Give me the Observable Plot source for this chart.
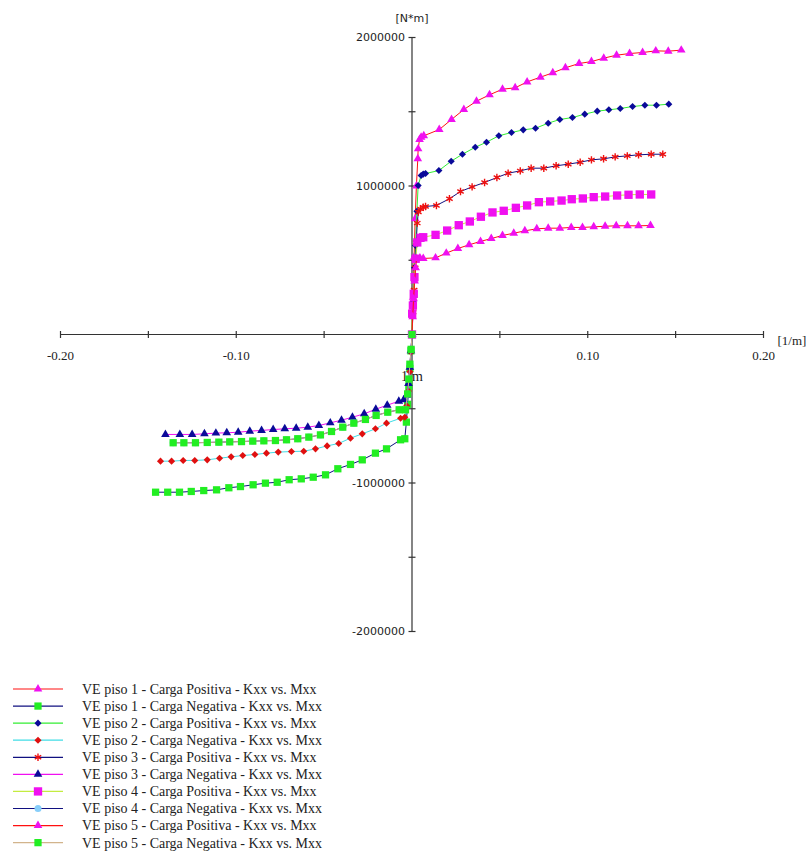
<!DOCTYPE html>
<html>
<head>
<meta charset="utf-8">
<script src="https://cdn.jsdelivr.net/npm/d3@7"></script>
<script src="https://cdn.jsdelivr.net/npm/@observablehq/plot@0.6"></script>
<style>
  body { margin: 0; background: #fff; }
  #chart svg, #legend svg { display: block; }
</style>
</head>
<body>
<div id="chart"></div>
<div id="legend"></div>
<script>
// Moment–curvature curves, pairs of [curvature 1/m, moment N*m]
const p1Pos = [[0,0],[0.0006,250000],[0.0012,520000],[0.0018,780000],[0.0025,1000000],[0.0033,1183000],[0.0035,1250000],[0.0043,1313000],[0.0052,1328000],[0.0067,1338000],[0.0155,1380000],[0.0225,1448000],[0.0295,1515000],[0.0367,1571000],[0.0441,1614000],[0.0515,1652000],[0.0587,1661000],[0.0655,1701000],[0.0731,1733000],[0.0801,1762000],[0.0873,1796000],[0.0951,1825000],[0.1021,1838000],[0.1091,1861000],[0.1164,1881000],[0.1238,1892000],[0.1312,1899000],[0.1387,1910000],[0.1458,1908000],[0.1532,1915000]];
const p1Neg = [[0,0],[-0.0006,-110000],[-0.0012,-230000],[-0.0018,-350000],[-0.0025,-470000],[-0.0032,-590000],[-0.0041,-702000],[-0.0065,-709000],[-0.0145,-770000],[-0.0208,-799000],[-0.0283,-844000],[-0.035,-875000],[-0.0422,-904000],[-0.0492,-945000],[-0.0562,-961000],[-0.063,-972000],[-0.0699,-978000],[-0.0767,-995000],[-0.0834,-1001000],[-0.0904,-1012000],[-0.0976,-1024000],[-0.1042,-1032000],[-0.1112,-1046000],[-0.1185,-1051000],[-0.1256,-1057000],[-0.1323,-1062000],[-0.139,-1062000],[-0.1459,-1062000]];
const p2Pos = [[0,0],[0.0007,220000],[0.0014,450000],[0.002,600000],[0.0028,830000],[0.0035,1003000],[0.0052,1071000],[0.0064,1080000],[0.0077,1084000],[0.0153,1104000],[0.0223,1167000],[0.0287,1214000],[0.036,1261000],[0.0424,1295000],[0.0494,1338000],[0.0566,1360000],[0.0633,1378000],[0.0703,1389000],[0.0775,1423000],[0.0841,1448000],[0.0913,1461000],[0.0983,1484000],[0.1054,1504000],[0.112,1513000],[0.1185,1522000],[0.1255,1535000],[0.1325,1544000],[0.1391,1544000],[0.1461,1551000]];
const p2Neg = [[0,0],[-0.0006,-120000],[-0.0012,-250000],[-0.002,-380000],[-0.003,-480000],[-0.0041,-557000],[-0.0065,-564000],[-0.0145,-597000],[-0.0208,-635000],[-0.0283,-669000],[-0.035,-698000],[-0.0417,-734000],[-0.0483,-750000],[-0.0549,-770000],[-0.0616,-786000],[-0.0686,-788000],[-0.0761,-792000],[-0.0828,-799000],[-0.0894,-808000],[-0.0963,-815000],[-0.1029,-824000],[-0.1095,-833000],[-0.1165,-844000],[-0.1236,-848000],[-0.1302,-848000],[-0.1368,-853000],[-0.1431,-853000]];
const p3Pos = [[0,0],[0.0006,150000],[0.0012,300000],[0.0018,450000],[0.0024,620000],[0.003,750000],[0.0036,825000],[0.0048,846000],[0.0064,857000],[0.0077,862000],[0.0139,869000],[0.0213,914000],[0.0276,963000],[0.0342,994000],[0.0413,1024000],[0.0483,1057000],[0.0547,1086000],[0.0616,1102000],[0.0678,1120000],[0.075,1120000],[0.082,1136000],[0.0889,1147000],[0.0957,1160000],[0.1021,1176000],[0.109,1183000],[0.1156,1196000],[0.1225,1203000],[0.1289,1210000],[0.1361,1214000],[0.1427,1214000]];
const p3Neg = [[0,0],[-0.0006,-110000],[-0.0012,-220000],[-0.002,-330000],[-0.003,-410000],[-0.0047,-440000],[-0.0075,-449000],[-0.0141,-476000],[-0.0206,-503000],[-0.0272,-534000],[-0.0339,-557000],[-0.0401,-577000],[-0.0465,-595000],[-0.053,-613000],[-0.0593,-624000],[-0.0659,-631000],[-0.0724,-635000],[-0.079,-640000],[-0.0856,-646000],[-0.0923,-651000],[-0.0989,-658000],[-0.1054,-662000],[-0.1116,-664000],[-0.1181,-669000],[-0.1251,-673000],[-0.1321,-673000],[-0.1403,-673000]];
const p4Pos = [[0,0],[0.0001,140000],[0.0005,195000],[0.001,274000],[0.0014,386000],[0.0021,510000],[0.003,620000],[0.0048,651000],[0.0064,655000],[0.0134,671000],[0.02,700000],[0.0266,736000],[0.0329,761000],[0.0392,793000],[0.0458,822000],[0.0522,833000],[0.0591,853000],[0.0655,869000],[0.0722,891000],[0.0786,896000],[0.0851,902000],[0.0909,911000],[0.0972,916000],[0.1034,925000],[0.1099,929000],[0.1167,936000],[0.1232,941000],[0.1296,943000],[0.1361,943000]];
const p4Neg = [[0,0],[-0.0005,-100000],[-0.0012,-200000],[-0.0018,-300000],[-0.0025,-400000],[-0.0037,-507000],[-0.0073,-507000],[-0.0138,-523000],[-0.0204,-545000],[-0.0265,-572000],[-0.0331,-597000],[-0.0394,-624000],[-0.0458,-653000],[-0.0521,-676000],[-0.0587,-691000],[-0.065,-702000],[-0.0714,-709000],[-0.0777,-714000],[-0.0843,-716000],[-0.0906,-718000],[-0.097,-721000],[-0.1037,-723000],[-0.1099,-725000],[-0.1165,-727000],[-0.1232,-729000],[-0.1298,-729000],[-0.1359,-729000]];
const p5Pos = [[0,0],[0.0004,120000],[0.0009,240000],[0.0015,360000],[0.0021,450000],[0.0026,512000],[0.0045,516000],[0.0064,512000],[0.0134,516000],[0.0195,548000],[0.0261,579000],[0.0325,604000],[0.039,627000],[0.0451,646000],[0.0515,667000],[0.0579,682000],[0.0642,698000],[0.071,712000],[0.0775,716000],[0.0841,716000],[0.0906,721000],[0.097,721000],[0.1034,725000],[0.1099,729000],[0.1162,732000],[0.1226,732000],[0.1289,732000],[0.1357,734000]];
const p5Neg = [[0,0],[-0.0005,-100000],[-0.0012,-200000],[-0.0018,-300000],[-0.0025,-400000],[-0.0037,-507000],[-0.0073,-507000],[-0.0138,-523000],[-0.0204,-545000],[-0.0265,-572000],[-0.0331,-597000],[-0.0394,-624000],[-0.0458,-653000],[-0.0521,-676000],[-0.0587,-691000],[-0.065,-702000],[-0.0714,-709000],[-0.0777,-714000],[-0.0843,-716000],[-0.0906,-718000],[-0.097,-721000],[-0.1037,-723000],[-0.1099,-725000],[-0.1165,-727000],[-0.1232,-729000],[-0.1298,-729000],[-0.1359,-729000]];

const seriesNames = [
  "VE piso 1 - Carga Positiva - Kxx vs. Mxx",
  "VE piso 1 - Carga Negativa - Kxx vs. Mxx",
  "VE piso 2 - Carga Positiva - Kxx vs. Mxx",
  "VE piso 2 - Carga Negativa - Kxx vs. Mxx",
  "VE piso 3 - Carga Positiva - Kxx vs. Mxx",
  "VE piso 3 - Carga Negativa - Kxx vs. Mxx",
  "VE piso 4 - Carga Positiva - Kxx vs. Mxx",
  "VE piso 4 - Carga Negativa - Kxx vs. Mxx",
  "VE piso 5 - Carga Positiva - Kxx vs. Mxx",
  "VE piso 5 - Carga Negativa - Kxx vs. Mxx"
];
const seriesData = [p1Pos, p1Neg, p2Pos, p2Neg, p3Pos, p3Neg, p4Pos, p4Neg, p5Pos, p5Neg];

// axis ticks and labels
const xTicks = [-0.2, -0.15, -0.1, -0.05, 0, 0.05, 0.1, 0.15, 0.2];
const xLabels = [-0.2, -0.1, 0.1, 0.2];
const yTicks = [-2000000, -1500000, -1000000, -500000, 0, 500000, 1000000, 1500000, 2000000];
const yLabels = [-2000000, -1000000, 1000000, 2000000];
const xUnit = "[1/m]";
const yUnit = "[N*m]";
const innerNote = "1/m";

const serif = "'Liberation Serif', 'Times New Roman', Times, serif";
const sans = "'DejaVu Sans', Verdana, sans-serif";

// line colour, marker colour, marker symbol and radius per series
const styles = [
  {line: "#ff1010", mark: "#f010f0", symbol: "triangle", r: 3.2},
  {line: "#101080", mark: "#22ee22", symbol: "square", r: 4.1},
  {line: "#33ee33", mark: "#0a0a99", symbol: "diamond2", r: 3.2},
  {line: "#40dde6", mark: "#e01010", symbol: "diamond2", r: 3.2},
  {line: "#101080", mark: "#ee1010", symbol: "asterisk", r: 3.5, stroke: true},
  {line: "#f010f0", mark: "#0a0a99", symbol: "triangle", r: 3.2},
  {line: "#c4ec40", mark: "#f010f0", symbol: "square", r: 4.7},
  {line: "#101080", mark: "#87cefa", symbol: "circle", r: 3.5},
  {line: "#ff1010", mark: "#f010f0", symbol: "triangle", r: 3.2},
  {line: "#d2b48c", mark: "#22ee22", symbol: "square", r: 4.1}
];

// short tick drawn as a symbol so its length stays in pixels
const vTick = {draw(ctx, size) { const h = Math.sqrt(size / Math.PI); ctx.moveTo(0, -h); ctx.lineTo(0, h); }};
const hTick = {draw(ctx, size) { const h = Math.sqrt(size / Math.PI); ctx.moveTo(-h, 0); ctx.lineTo(h, 0); }};

const axisColor = "#333";
const seriesMarks = seriesData.flatMap((data, i) => {
  const s = styles[i];
  const dotOpts = {x: d => d[0], y: d => d[1], symbol: s.symbol, r: s.r};
  if (s.stroke) { dotOpts.stroke = s.mark; dotOpts.strokeWidth = 1.4; }
  else { dotOpts.fill = s.mark; }
  return [
    Plot.line(data, {x: d => d[0], y: d => d[1], stroke: s.line, strokeWidth: 1}),
    Plot.dot(data, dotOpts)
  ];
});

const chart = Plot.plot({
  width: 812,
  height: 660,
  marginLeft: 60,
  marginRight: 49,
  marginTop: 37,
  marginBottom: 29,
  x: {domain: [-0.2, 0.2], axis: null},
  y: {domain: [-2000000, 2000000], axis: null},
  style: {background: "#fff", fontFamily: serif, overflow: "visible"},
  marks: [
    Plot.ruleY([0], {x1: -0.2, x2: 0.2, stroke: axisColor, strokeWidth: 1.2}),
    Plot.ruleX([0], {y1: -2000000, y2: 2000000, stroke: axisColor, strokeWidth: 1.2}),
    Plot.dot(xTicks, {x: d => d, y: () => 0, symbol: vTick, r: 3.5, stroke: axisColor, strokeWidth: 1.2}),
    Plot.dot(yTicks, {x: () => 0, y: d => d, symbol: hTick, r: 3.5, stroke: axisColor, strokeWidth: 1.2}),
    Plot.text(xLabels, {x: d => d, y: () => 0, text: d => d.toFixed(2), dy: 21,
      fontFamily: serif, fontSize: 13, fill: "#222"}),
    Plot.text(yLabels, {x: () => 0, y: d => d, text: d => String(d), textAnchor: "end", dx: -7,
      fontFamily: sans, fontSize: 11, fill: "#222"}),
    Plot.text([yUnit], {x: () => 0, y: () => 2000000, text: d => d, dy: -19,
      fontFamily: sans, fontSize: 11, fill: "#222"}),
    Plot.text([xUnit], {x: () => 0.2, y: () => 0, text: d => d, textAnchor: "start", dx: 14, dy: 6,
      fontFamily: serif, fontSize: 13, fill: "#222"}),
    Plot.text([innerNote], {x: () => 0, y: () => -283000, text: d => d,
      fontFamily: serif, fontSize: 14, fill: "#222"}),
    ...seriesMarks
  ]
});
document.getElementById("chart").appendChild(chart);

// legend below the plot
const symbolTypes = {triangle: d3.symbolTriangle, square: d3.symbolSquare, diamond2: d3.symbolDiamond2,
  asterisk: d3.symbolAsterisk, circle: d3.symbolCircle};
const legend = d3.select("#legend").append("svg").attr("width", 812).attr("height", 192);
seriesNames.forEach((name, i) => {
  const s = styles[i];
  const y = 29 + i * 17.07;
  const g = legend.append("g");
  g.append("line").attr("x1", 13).attr("x2", 63).attr("y1", y).attr("y2", y)
    .attr("stroke", s.line).attr("stroke-width", 1.2);
  const p = g.append("path")
    .attr("d", d3.symbol(symbolTypes[s.symbol], s.r * s.r * Math.PI)())
    .attr("transform", `translate(38,${y})`);
  if (s.stroke) p.attr("fill", "none").attr("stroke", s.mark).attr("stroke-width", 1.4);
  else p.attr("fill", s.mark);
  g.append("text").attr("x", 82).attr("y", y).attr("dy", "0.35em")
    .attr("font-family", serif).attr("font-size", 14).attr("fill", "#222")
    .text(name);
});
</script>
</body>
</html>
